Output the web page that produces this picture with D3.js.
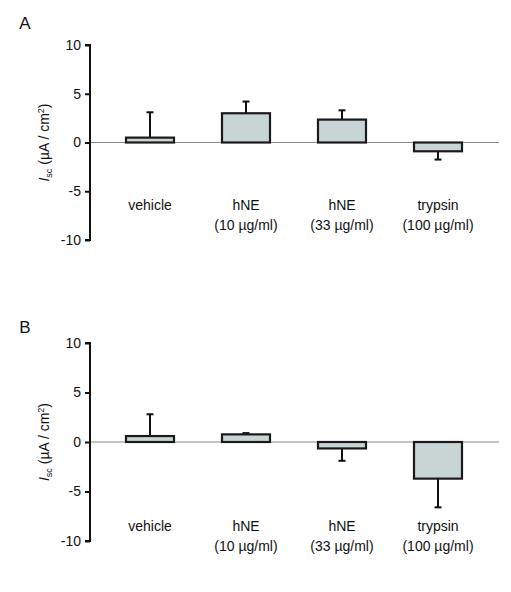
<!DOCTYPE html>
<html><head><meta charset="utf-8">
<script src="https://cdn.jsdelivr.net/npm/d3@7"></script>
<style>
body{margin:0;background:#fff;}
text{font-family:"Liberation Sans",Arial,sans-serif;fill:#111;}
</style></head>
<body>
<svg id="c" width="511" height="592"></svg>
<script>
const categories = ["vehicle","hNE","hNE","trypsin"];
const subLabels = ["","(10 µg/ml)","(33 µg/ml)","(100 µg/ml)"];
const panelLabels = ["A","B"];
const meansA = [0.5, 3.0, 2.35, -0.9];
const errorsA = [2.6, 1.2, 0.95, 0.85];
const meansB = [0.6, 0.77, -0.65, -3.7];
const errorsB = [2.2, 0.13, 1.25, 2.9];
const yTicks = [10, 5, 0, -5, -10];

const svg = d3.select("#c");
const panels = [
  {label: panelLabels[0], means: meansA, errs: errorsA, top: 45, bottom: 240, labelY: 23, text1: 210, text2: 230},
  {label: panelLabels[1], means: meansB, errs: errorsB, top: 343, bottom: 541, labelY: 327, text1: 531, text2: 551}
];

const x = d3.scaleBand().domain(d3.range(categories.length)).range([102, 486]).paddingInner(0.5).paddingOuter(0.25);

panels.forEach(p => {
  const g = svg.append("g");
  const y = d3.scaleLinear().domain([-10, 10]).range([p.bottom, p.top]);

  g.append("text").attr("x", 25).attr("y", p.labelY).attr("text-anchor","middle")
    .attr("dominant-baseline","central").style("font-size","17px").text(p.label);

  g.append("line").attr("x1", 90).attr("x2", 499).attr("y1", y(0)).attr("y2", y(0))
    .attr("stroke","#8a8a8a").attr("stroke-width",1);

  const ax = g.append("g").attr("transform","translate(90,0)")
    .call(d3.axisLeft(y).tickValues(yTicks).tickSize(5).tickPadding(4).tickFormat(d => String(d)));
  ax.select(".domain").attr("stroke","#111").attr("stroke-width",2).attr("d", `M-5,${y(10)}H0V${y(-10)}H-5`);
  ax.selectAll(".tick line").attr("stroke","#111").attr("stroke-width",2);
  ax.selectAll(".tick text").style("font-size","14px").style("font-family",'"Liberation Sans",Arial,sans-serif').attr("fill","#111");

  const cy = y(0);
  const t = g.append("text").attr("transform", `translate(49,${cy}) rotate(-90)`)
    .attr("text-anchor","middle").style("font-size","14px");
  t.append("tspan").attr("font-style","italic").text("I");
  t.append("tspan").attr("dy", 3).style("font-size","9px").text("sc");
  t.append("tspan").attr("dy", -3).text(" (µA / cm");
  t.append("tspan").attr("dy", -5).style("font-size","9px").text("2");
  t.append("tspan").attr("dy", 5).text(")");

  p.means.forEach((m, i) => {
    const cx = x(i) + x.bandwidth()/2;
    const end = m >= 0 ? m + p.errs[i] : m - p.errs[i];
    g.append("line").attr("x1",cx).attr("x2",cx).attr("y1",y(m)).attr("y2",y(end))
      .attr("stroke","#111").attr("stroke-width",2);
    g.append("line").attr("x1",cx-3.5).attr("x2",cx+3.5).attr("y1",y(end)).attr("y2",y(end))
      .attr("stroke","#111").attr("stroke-width",2);
  });

  g.selectAll("rect.bar").data(p.means).join("rect").attr("class","bar")
    .attr("x",(d,i)=>x(i)).attr("width",x.bandwidth())
    .attr("y",d=>y(Math.max(0,d))).attr("height",d=>Math.abs(y(d)-y(0)))
    .attr("fill","#c9d5d5").attr("stroke","#1a1a1a").attr("stroke-width",2.2);

  categories.forEach((c, i) => {
    const cx = x(i) + x.bandwidth()/2;
    g.append("text").attr("x",cx).attr("y",p.text1).attr("text-anchor","middle").style("font-size","14px").text(c);
    if (subLabels[i]) g.append("text").attr("x",cx).attr("y",p.text2).attr("text-anchor","middle").style("font-size","14px").text(subLabels[i]);
  });
});
</script>
</body></html>
